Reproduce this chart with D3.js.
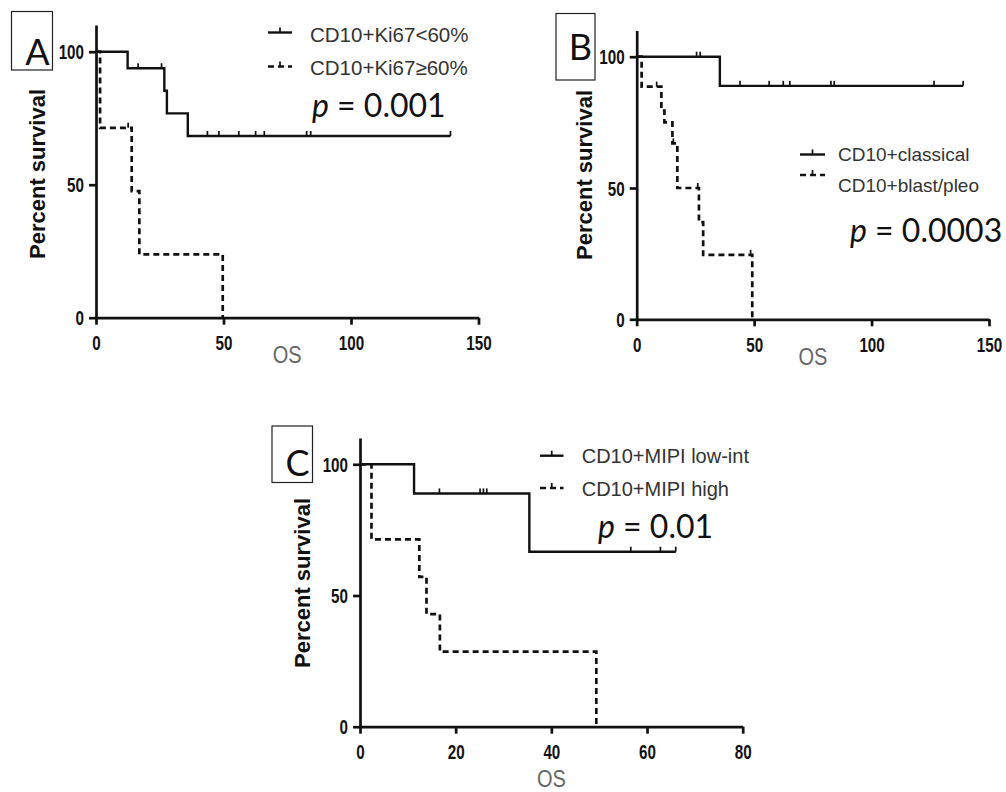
<html>
<head>
<script src="https://cdnjs.cloudflare.com/ajax/libs/d3/7.8.5/d3.min.js"></script>
<style>
  body { margin: 0; background: #fff; }
</style>
</head>
<body>
<script>
// ---- data (time in months, percent survival) ----
// panel A : Ki67
var aLowTime = [0, 12.4, 26.8, 27.8, 36, 139];
var aLowPct  = [100, 93.8, 85.3, 76.8, 68.3, 68.3];
var aLowCens = [16.5, 25.7, 43.7, 48.2, 56, 62.6, 66, 82.6, 84.2, 139];
var aHighTime = [0, 1.6, 14, 17, 49.7];
var aHighPct  = [100, 71.4, 47.6, 23.8, 0];
var aHighCens = [12.6];

// panel B : morphology
var bClassTime = [0, 35.4, 139];
var bClassPct  = [100, 88.9, 88.9];
var bClassCens = [25.5, 27, 44, 56.4, 62.4, 65.2, 82.7, 84.1, 126.6, 139];
var bBlastTime = [0, 2.1, 10.5, 11.8, 15.2, 17.3, 26.5, 28.3, 49.2];
var bBlastPct  = [100, 88.6, 79.5, 75, 67, 50, 37, 24.5, 0];
var bBlastCens = [8.5, 15.6, 26, 48.5];

// panel C : MIPI
var cLowTime = [0, 11.3, 35.4, 66];
var cLowPct  = [100, 88.9, 66.7, 66.7];
var cLowCens = [16.6, 25.1, 25.8, 26.5, 56.6, 62.8, 66];
var cHighTime = [0, 2.4, 12.4, 13.9, 16.7, 49.4];
var cHighPct  = [100, 71.4, 57.1, 42.9, 28.6, 0];
var cHighCens = [];

var yTicks = [0, 50, 100];
var xTicksAB = [0, 50, 100, 150];
var xTicksC = [0, 20, 40, 60, 80];

var svg = d3.select("body").append("svg")
  .attr("width", 1006)
  .attr("height", 792);

var pct = function(times, pcts, t) {
  var v = pcts[0];
  for (var i = 0; i < times.length; i++) {
    if (times[i] <= t) v = pcts[i];
  }
  return v;
};

var drawPanel = function(o) {
  var g = svg.append("g");
  var x = d3.scaleLinear().domain([0, o.xMax]).range([o.x0, o.x1]);
  var y = d3.scaleLinear().domain([0, 100]).range([o.y0, o.y100]);

  // axes
  var xa = g.append("g")
    .attr("transform", "translate(0," + o.y0 + ")")
    .call(d3.axisBottom(x).tickValues(o.xTicks).tickSize(7).tickSizeOuter(0));
  xa.selectAll("text")
    .attr("y", 0).attr("dy", 0)
    .attr("transform", "translate(0,32.5) scale(0.95,1.3)");

  var ya = g.append("g")
    .attr("transform", "translate(" + o.x0 + ",0)")
    .call(d3.axisLeft(y.copy().domain([0, 110]).range([o.y0, o.y0 - (o.y0 - o.y100) * 1.1]))
      .tickValues(yTicks).tickSize(7).tickSizeOuter(0));
  ya.selectAll("text")
    .attr("x", 0).attr("dy", "0.36em")
    .attr("transform", "translate(-12,0) scale(0.95,1.25)");

  g.selectAll(".domain, .tick line")
    .attr("stroke", "#111")
    .attr("stroke-width", 2.7);
  g.selectAll(".tick text")
    .attr("fill", "#111")
    .style("font-family", "'Liberation Sans', Arial, sans-serif")
    .style("font-weight", "bold")
    .style("font-size", "16px");

  // survival curves
  var line = d3.line()
    .x(function(d) { return x(d[0]); })
    .y(function(d) { return y(d[1]); })
    .curve(d3.curveStepAfter);

  o.curves.forEach(function(c) {
    var pts = c.time.map(function(t, i) { return [t, c.pct[i]]; });
    g.append("path")
      .attr("d", line(pts))
      .attr("fill", "none")
      .attr("stroke", "#111")
      .attr("stroke-width", c.dashed ? 2.7 : 2.4)
      .attr("stroke-dasharray", c.dashed ? "6,4" : null);

    g.selectAll(null)
      .data(c.cens)
      .enter()
      .append("line")
      .attr("x1", function(d) { return x(d); })
      .attr("x2", function(d) { return x(d); })
      .attr("y1", function(d) { return y(pct(c.time, c.pct, d)); })
      .attr("y2", function(d) { return y(pct(c.time, c.pct, d)) - 5; })
      .attr("stroke", "#111")
      .attr("stroke-width", 1.7);

    // legend
    var lg = c.leg;
    g.append("line")
      .attr("x1", lg.x1).attr("x2", lg.x2)
      .attr("y1", lg.y).attr("y2", lg.y)
      .attr("stroke", "#111")
      .attr("stroke-width", 2.4)
      .attr("stroke-dasharray", c.dashed ? "6,4" : null);
    g.append("line")
      .attr("x1", (lg.x1 + lg.x2) / 2).attr("x2", (lg.x1 + lg.x2) / 2)
      .attr("y1", lg.y).attr("y2", lg.y - 5)
      .attr("stroke", "#111")
      .attr("stroke-width", 1.7);
    g.append("text")
      .attr("x", lg.tx)
      .attr("y", lg.ty)
      .text(c.name)
      .attr("fill", "#333")
      .style("font-family", "'Liberation Sans', Arial, sans-serif")
      .style("font-size", lg.fs + "px");
  });

  // p value
  var pt = g.append("text")
    .attr("x", o.p.x)
    .attr("y", o.p.y)
    .attr("fill", "#111")
    .style("font-family", "Lato, 'Liberation Sans', sans-serif")
    .style("font-size", "32px");
  pt.append("tspan").text("p").style("font-style", "italic");
  pt.append("tspan").text(" = " + o.p.value);

  // axis titles
  g.append("text")
    .attr("transform", "translate(" + o.ylab.x + "," + o.ylab.y + ") rotate(-90)")
    .attr("text-anchor", "middle")
    .text("Percent survival")
    .attr("fill", "#111")
    .style("font-family", "'Liberation Sans', Arial, sans-serif")
    .style("font-weight", "bold")
    .style("font-size", "22px");

  g.append("text")
    .attr("transform", "translate(" + (o.x0 + o.x1) / 2 + "," + o.xlabY + ") scale(1,1.15)")
    .attr("text-anchor", "middle")
    .text("OS")
    .attr("fill", "#666")
    .style("font-family", "'Liberation Sans', Arial, sans-serif")
    .style("font-size", "20px");

  // panel letter box
  g.append("rect")
    .attr("x", o.box.x).attr("y", o.box.y)
    .attr("width", o.box.w).attr("height", o.box.h)
    .attr("fill", "none")
    .attr("stroke", "#222")
    .attr("stroke-width", 1.2);
  g.append("text")
    .attr("x", o.box.x + o.box.w - 3)
    .attr("y", o.box.ly)
    .attr("text-anchor", "end")
    .text(o.box.letter)
    .attr("fill", "#111")
    .style("font-family", "Lato, 'Liberation Sans', sans-serif")
    .style("font-size", "36px");
};

drawPanel({
  xMax: 150, x0: 96, x1: 478.5, y0: 317.7, y100: 51.7, xTicks: xTicksAB,
  curves: [
    { name: "CD10+Ki67<60%", time: aLowTime, pct: aLowPct, cens: aLowCens, dashed: false,
      leg: { x1: 268, x2: 292, y: 32.5, tx: 310, ty: 42, fs: 20.5 } },
    { name: "CD10+Ki67\u226560%", time: aHighTime, pct: aHighPct, cens: aHighCens, dashed: true,
      leg: { x1: 268, x2: 292, y: 66.5, tx: 310, ty: 75, fs: 20.5 } }
  ],
  p: { x: 312, y: 117, value: "0.001" },
  ylab: { x: 45, y: 174 },
  xlabY: 363,
  box: { x: 11.5, y: 11.5, w: 41, h: 58.5, ly: 65, letter: "A" }
});

drawPanel({
  xMax: 150, x0: 636.7, x1: 989, y0: 319.3, y100: 56.7, xTicks: xTicksAB,
  curves: [
    { name: "CD10+classical", time: bClassTime, pct: bClassPct, cens: bClassCens, dashed: false,
      leg: { x1: 800, x2: 825, y: 154.5, tx: 838, ty: 161, fs: 19 } },
    { name: "CD10+blast/pleo", time: bBlastTime, pct: bBlastPct, cens: bBlastCens, dashed: true,
      leg: { x1: 800, x2: 825, y: 175, tx: 838, ty: 191.5, fs: 19 } }
  ],
  p: { x: 850, y: 242, value: "0.0003" },
  ylab: { x: 591.5, y: 175 },
  xlabY: 365,
  box: { x: 556, y: 13.5, w: 39, h: 66.5, ly: 59.5, letter: "B" }
});

drawPanel({
  xMax: 80, x0: 360, x1: 742.7, y0: 726.7, y100: 464.3, xTicks: xTicksC,
  curves: [
    { name: "CD10+MIPI low-int", time: cLowTime, pct: cLowPct, cens: cLowCens, dashed: false,
      leg: { x1: 540, x2: 563.5, y: 455.7, tx: 581.7, ty: 463, fs: 20 } },
    { name: "CD10+MIPI high", time: cHighTime, pct: cHighPct, cens: cHighCens, dashed: true,
      leg: { x1: 540, x2: 563.5, y: 488, tx: 581.7, ty: 496, fs: 20 } }
  ],
  p: { x: 598, y: 538, value: "0.01" },
  ylab: { x: 309.5, y: 583 },
  xlabY: 787,
  box: { x: 272, y: 426, w: 40.5, h: 56.5, ly: 476, letter: "C" }
});
</script>
</body>
</html>
